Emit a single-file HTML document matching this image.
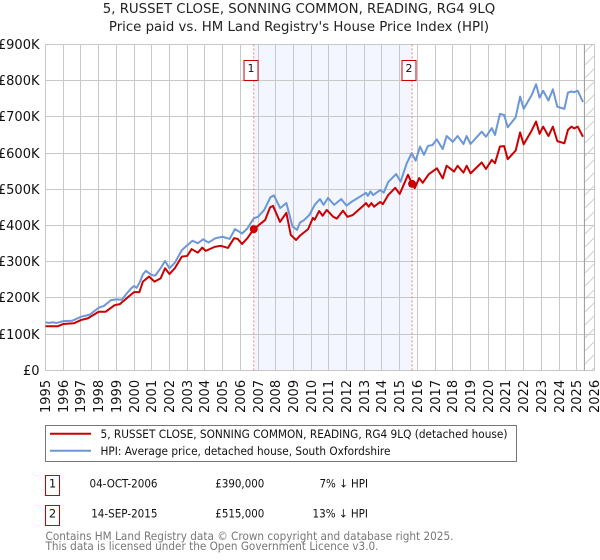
<!DOCTYPE html>
<html>
<head>
<meta charset="utf-8">
<title>5, Russet Close price paid vs HPI</title>
<style>
html,body{margin:0;padding:0;background:#fff;}
body{width:600px;height:560px;overflow:hidden;}
svg{display:block;font-family:"DejaVu Sans",sans-serif;}
</style>
</head>
<body>
<svg id="chart" width="600" height="560" viewBox="0 0 600 560" xmlns="http://www.w3.org/2000/svg">
<defs>
<pattern id="hatch" patternUnits="userSpaceOnUse" width="13" height="13">
<path d="M0 13L13 0" stroke="#cfcfcf" stroke-width="1" fill="none"/>
</pattern>
</defs>
<g id="bands"></g>
<g id="grid"></g>
<g id="series"></g>
<g id="labels" font-size="13" fill="#111"></g>
<text x="299" y="13" text-anchor="middle" font-size="13.3" fill="#222">5, RUSSET CLOSE, SONNING COMMON, READING, RG4 9LQ</text>
<text x="299" y="31" text-anchor="middle" font-size="13.3" fill="#222">Price paid vs. HM Land Registry's House Price Index (HPI)</text>
<g>
<rect x="45.5" y="425.5" width="471" height="36" fill="#fff" stroke="#777" stroke-width="1"/>
<line x1="50" x2="91" y1="433.7" y2="433.7" stroke="#cc0000" stroke-width="2"/>
<text x="100.5" y="438" font-size="11.5" fill="#111" textLength="407" lengthAdjust="spacingAndGlyphs">5, RUSSET CLOSE, SONNING COMMON, READING, RG4 9LQ (detached house)</text>
<line x1="50" x2="91" y1="450.7" y2="450.7" stroke="#6b97d6" stroke-width="2"/>
<text x="100.5" y="455" font-size="11.5" fill="#111" textLength="290" lengthAdjust="spacingAndGlyphs">HPI: Average price, detached house, South Oxfordshire</text>
</g>
<g font-size="11.5" fill="#111">
<rect x="45.5" y="475.5" width="14" height="20" fill="#fff" stroke="#cc0000"/>
<text x="52.5" y="487.3" text-anchor="middle">1</text>
<text x="89.5" y="487.3" textLength="68" lengthAdjust="spacingAndGlyphs">04-OCT-2006</text>
<text x="215.3" y="487.3" textLength="49" lengthAdjust="spacingAndGlyphs">£390,000</text>
<text x="319.5" y="487.3" textLength="48.5" lengthAdjust="spacingAndGlyphs">7% ↓ HPI</text>
<rect x="45.5" y="505.5" width="14" height="20" fill="#fff" stroke="#cc0000"/>
<text x="52.5" y="517.3" text-anchor="middle">2</text>
<text x="91.2" y="517.3" textLength="66.3" lengthAdjust="spacingAndGlyphs">14-SEP-2015</text>
<text x="215.3" y="517.3" textLength="49" lengthAdjust="spacingAndGlyphs">£515,000</text>
<text x="312.5" y="517.3" textLength="55.5" lengthAdjust="spacingAndGlyphs">13% ↓ HPI</text>
</g>
<text x="45.5" y="540" font-size="11.5" fill="#777" textLength="408" lengthAdjust="spacingAndGlyphs">Contains HM Land Registry data © Crown copyright and database right 2025.</text>
<text x="45.5" y="550" font-size="11.5" fill="#777" textLength="333" lengthAdjust="spacingAndGlyphs">This data is licensed under the Open Government Licence v3.0.</text>
</svg>
<script>
const yearTicks = [1995,1996,1997,1998,1999,2000,2001,2002,2003,2004,2005,2006,2007,2008,2009,2010,2011,2012,2013,2014,2015,2016,2017,2018,2019,2020,2021,2022,2023,2024,2025,2026];
const priceTicks = [0,100,200,300,400,500,600,700,800,900];
const priceTickLabels = ['£0','£100K','£200K','£300K','£400K','£500K','£600K','£700K','£800K','£900K'];
const hpiDates = [1995.0,1995.2,1995.4,1995.6,1995.8,1996.0,1996.5,1997.0,1997.5,1998.0,1998.3,1998.7,1999.0,1999.3,1999.6,1999.85,2000.0,2000.15,2000.34,2000.5,2000.67,2001.0,2001.2,2001.5,2001.75,2002.0,2002.3,2002.7,2002.9,2003.3,2003.6,2003.9,2004.2,2004.6,2005.0,2005.4,2005.7,2006.1,2006.4,2006.76,2007.0,2007.35,2007.7,2007.9,2008.25,2008.6,2008.95,2009.2,2009.37,2009.6,2009.9,2010.2,2010.5,2010.7,2010.95,2011.3,2011.7,2012.0,2012.3,2012.9,2013.1,2013.2,2013.35,2013.5,2013.9,2014.1,2014.35,2014.8,2015.05,2015.4,2015.68,2015.9,2016.15,2016.37,2016.6,2016.85,2017.09,2017.43,2017.65,2018.0,2018.27,2018.6,2018.78,2019.0,2019.63,2019.87,2020.2,2020.38,2020.66,2020.9,2021.1,2021.55,2021.8,2022.0,2022.45,2022.7,2022.9,2023.1,2023.4,2023.65,2023.9,2024.3,2024.5,2024.7,2024.85,2025.05,2025.35];
const hpiValues = [133,131,133,131,133,136,137,148,154,173,178,194,196,195,213,227,233,228,245,265,275,263,262,282,302,282,297,332,341,358,351,362,353,365,369,363,390,378,392,420,424,443,478,483,448,462,397,388,408,415,429,457,473,457,476,457,473,455,466,484,490,482,494,484,498,491,520,542,521,572,600,579,618,595,620,622,638,611,647,631,647,625,647,625,659,645,669,650,708,705,671,699,756,722,760,790,753,772,745,776,728,722,767,770,768,772,741];
const paidDates = [1995.0,1995.3,1995.7,1996.0,1996.6,1997.0,1997.4,1998.0,1998.4,1998.9,1999.2,1999.6,2000.0,2000.3,2000.5,2000.85,2001.15,2001.5,2001.75,2002.0,2002.3,2002.7,2003.0,2003.25,2003.6,2003.85,2004.05,2004.55,2004.9,2005.3,2005.65,2005.85,2006.1,2006.4,2006.76,2007.4,2007.68,2007.85,2008.24,2008.6,2008.85,2009.15,2009.37,2009.83,2010.1,2010.2,2010.45,2010.65,2010.88,2011.25,2011.45,2011.8,2012.05,2012.35,2012.95,2013.1,2013.25,2013.4,2013.55,2013.9,2014.05,2014.35,2014.75,2015.0,2015.47,2015.7,2015.85,2016.1,2016.3,2016.65,2016.85,2017.1,2017.43,2017.65,2018.07,2018.27,2018.6,2018.78,2019.0,2019.63,2019.87,2020.2,2020.38,2020.66,2020.9,2021.1,2021.55,2021.8,2022.0,2022.45,2022.7,2022.9,2023.1,2023.4,2023.65,2023.9,2024.3,2024.5,2024.7,2024.85,2025.05,2025.35];
const paidValues = [122,122,122,128,130,139,144,162,162,180,183,200,216,216,245,259,245,254,282,266,282,314,316,335,325,339,330,341,344,338,365,363,349,365,390,415,450,454,410,435,374,360,372,390,421,416,440,427,443,424,419,441,424,429,455,462,452,462,452,465,459,484,504,487,540,515,503,531,518,542,549,558,530,565,549,565,546,565,544,574,556,581,572,618,619,583,607,657,624,662,687,653,673,647,673,633,627,664,673,668,673,645];
const saleDates = [2006.76,2015.7];
const saleValues = [390,515];
const saleNumbers = ['1','2'];

const NS = 'http://www.w3.org/2000/svg';
const plotLeft = 45.5, plotRight = 594.5, plotTop = 44.4, plotBottom = 370.4;
const dataEndYear = 2025.43;
function xScale(year){ return plotLeft + (year - 1995) * (plotRight - plotLeft) / 31; }
function yScale(k){ return plotBottom - k * (plotBottom - plotTop) / 900; }
function add(parent, tag, attrs){
  const el = document.createElementNS(NS, tag);
  for (const k in attrs) el.setAttribute(k, attrs[k]);
  document.getElementById(parent).appendChild(el);
  return el;
}
const band = add('bands','rect',{x:xScale(saleDates[0]),y:plotTop,width:xScale(saleDates[1])-xScale(saleDates[0]),height:plotBottom-plotTop,fill:'#f3f6fe'});


const hatchArea = add('bands','rect',{x:xScale(dataEndYear),y:plotTop,width:plotRight-xScale(dataEndYear),height:plotBottom-plotTop,fill:'url(#hatch)'});



yearTicks.forEach(function(yr){
  const x = Math.round(xScale(yr) - 0.5) + 0.5;
  const line = add('grid','line',{x1:x,x2:x,y1:plotTop,y2:plotBottom,stroke:'#c8c8c8','stroke-width':1});
  
  
  const t = add('labels','text',{transform:'translate('+(x+4.5)+',413) rotate(-90)'});
  
  
  t.textContent = yr;
});
priceTicks.forEach(function(v,i){
  const y = Math.round(yScale(v) - 0.5) + 0.5;
  const line = add('grid','line',{x1:plotLeft,x2:plotRight,y1:y,y2:y,stroke:'#c8c8c8','stroke-width':1});
  
  
  const t = add('labels','text',{x:39.5,y:y+4.5,'text-anchor':'end'});
  
  
  t.textContent = priceTickLabels[i];
});
const endLine = add('grid','line',{x1:xScale(dataEndYear),x2:xScale(dataEndYear),y1:plotTop,y2:plotBottom,stroke:'#999','stroke-width':1});



function linePath(dates, values){
  return dates.map(function(d,i){ return (i?'L':'M') + xScale(d).toFixed(2) + ' ' + yScale(values[i]).toFixed(2); }).join('');
}
const hpiLine = add('series','path',{d:linePath(hpiDates,hpiValues),fill:'none',stroke:'#6b97d6','stroke-width':2,'stroke-linejoin':'round'});


const paidLine = add('series','path',{d:linePath(paidDates,paidValues),fill:'none',stroke:'#cc0000','stroke-width':2,'stroke-linejoin':'round'});



saleDates.forEach(function(d,i){
  const x = xScale(d);
  const v = add('series','line',{x1:x,x2:x,y1:plotTop,y2:plotBottom,stroke:'#e8808c','stroke-width':1,'stroke-dasharray':'2 2'});
  
  
  const dot = add('series','circle',{cx:x,cy:yScale(saleValues[i]),r:4,fill:'#cc0000'});
  
  
  const box = add('series','rect',{x:Math.round(x)-10.5+0.5,y:60.5,width:14,height:20,fill:'#fff',stroke:'#cc0000','stroke-width':1});
  
  
  const lbl = add('series','text',{x:Math.round(x)-3,y:72,'text-anchor':'middle','font-size':11,fill:'#111'});
  
  
  lbl.textContent = saleNumbers[i];
});
</script>
</body>
</html>
